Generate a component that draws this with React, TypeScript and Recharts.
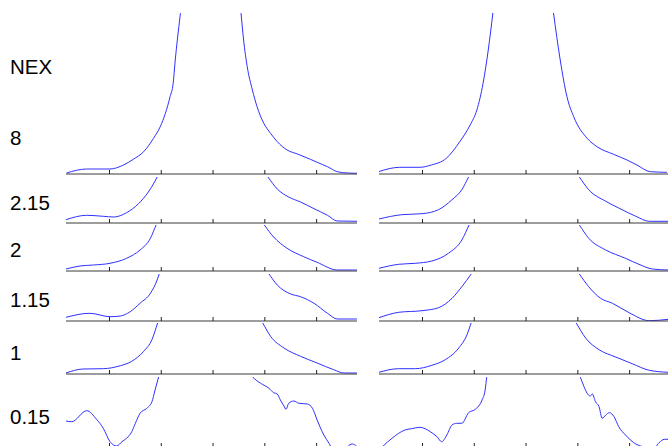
import React from "react";
import { LineChart, Line, XAxis, YAxis } from "recharts";

// ---- axis / labels ----
const xTicks = [-2, -1, 0, 1, 2];
const xDomain: [number, number] = [-2.84, 2.78];
const rowLabels = ["NEX", "8", "2.15", "2", "1.15", "1", "0.15"];

// ---- row 1 (8) ----
const r1LeftX = [-2.83, -2.44, -1.99, -1.73, -1.54, -1.34, -1.15, -1.02, -0.92, -0.83, -0.77, -0.73, -0.69, -0.63, -0.05, 0.54, 0.59, 0.66, 0.76, 0.85, 0.98, 1.11, 1.24, 1.43, 1.63, 1.88, 2.01, 2.21, 2.4, 2.59, 2.79];
const r1LeftY = [1, 5, 5, 9, 14.7, 22.3, 35.7, 47.3, 60.7, 77.3, 90.7, 114, 134, 160.7, 480, 160.7, 134, 107.3, 84, 67.3, 50.7, 40.7, 32.3, 24, 20, 14.7, 11.7, 7.3, 2.3, 1, 0.7];
const r1RightX = [-2.85, -2.44, -2.05, -1.83, -1.54, -1.28, -1.08, -0.95, -0.83, -0.73, -0.64, -0.05, 0.53, 0.66, 0.79, 0.92, 1.18, 1.37, 1.69, 1.95, 2.14, 2.4, 2.72];
const r1RightY = [2.3, 6.7, 6.7, 9, 15.7, 32.3, 49, 64, 90.7, 124, 161.3, 480, 161.3, 114, 77.3, 57.3, 35.7, 27.3, 19.7, 14, 9, 2.3, 1.7];

// ---- row 2 (2.15) ----
const r2LeftX = [-2.84, -2.44, -2.12, -1.92, -1.67, -1.44, -1.25, -1.13, -1.08, 0, 1.06, 1.24, 1.46, 1.69, 1.95, 2.21, 2.4, 2.78];
const r2LeftY = [3.3, 7.7, 6.7, 6, 10.3, 19.3, 31, 41, 46, 140, 46, 34, 26, 21, 14.3, 7.7, 2, 1.7];
const r2RightX = [-2.84, -2.4, -2.01, -1.69, -1.43, -1.24, -1.11, 0, 1.03, 1.21, 1.54, 1.79, 2.12, 2.38, 2.75];
const r2RightY = [4, 8.3, 9.3, 13.3, 23.3, 33.3, 46, 140, 46, 33.3, 21.7, 15, 6.7, 1.7, 1.7];

// ---- row 3 (2) ----
const r3LeftX = [-2.84, -2.57, -2.31, -1.99, -1.67, -1.41, -1.21, -1.1, 0, 0.99, 1.17, 1.43, 1.75, 2.01, 2.4, 2.78];
const r3LeftY = [2, 5, 6, 7.7, 12.7, 21, 32.7, 46, 140, 46, 34, 22.7, 14.3, 8.7, 1, 1];
const r3RightX = [-2.84, -2.46, -2.14, -1.82, -1.5, -1.24, -1.1, 0, 1.03, 1.21, 1.54, 1.92, 2.18, 2.44, 2.75];
const r3RightY = [2.7, 6.7, 7.7, 10, 17.7, 31, 46, 140, 46, 32.7, 21, 12.7, 6.7, 2, 1];

// ---- row 4 (1.15) ----
const r4LeftX = [-2.84, -2.38, -1.99, -1.79, -1.6, -1.41, -1.21, -1.08, -1.04, 0, 1.08, 1.24, 1.5, 1.69, 1.95, 2.21, 2.4, 2.78];
const r4LeftY = [3.7, 7.7, 4.3, 5, 9.3, 17.7, 27.7, 41, 47, 140, 47, 36, 27, 24.3, 17.7, 7.7, 2, 2];
const r4RightX = [-2.84, -2.46, -2.01, -1.69, -1.43, -1.24, -1.06, 0, 1.03, 1.21, 1.44, 1.67, 1.99, 2.38, 2.75];
const r4RightY = [3.3, 8.7, 10.3, 13.3, 22.7, 34.3, 47, 140, 47, 34.3, 22.7, 17.7, 8.3, 0.3, 1.7];

// ---- row 5 (1) ----
const r5LeftX = [-2.84, -2.51, -2.12, -1.79, -1.57, -1.34, -1.18, -1.07, 0, 0.96, 1.11, 1.37, 1.69, 2.01, 2.33, 2.53, 2.78];
const r5LeftY = [1, 5, 5.3, 8.3, 12.7, 22.7, 34.3, 51, 150, 51, 37.7, 26, 17.7, 11, 4.3, 1, 1];
const r5RightX = [-2.84, -2.46, -2.14, -1.82, -1.56, -1.3, -1.14, -1.06, 0, 0.97, 1.15, 1.41, 1.73, 2.05, 2.38, 2.75];
const r5RightY = [1.7, 5.3, 5.3, 8.7, 14.3, 26, 39.3, 51, 150, 51, 36, 24.3, 17, 10.3, 3.7, 1.7];

// ---- row 6 (0.15) ----
const r6LeftX = [-2.84, -2.73, -2.44, -2.25, -2.12, -1.99, -1.86, -1.76, -1.67, -1.57, -1.5, -1.41, -1.28, -1.18, -1.12, -1.05, -0.14, 0.77, 0.92, 1.08, 1.17, 1.24, 1.3, 1.37, 1.41, 1.46, 1.56, 1.66, 1.82, 1.92, 2.01, 2.14, 2.24, 2.3, 2.5, 2.59, 2.69, 2.77];
const r6LeftY = [26, 25.3, 36.3, 27.7, 18.7, 5.3, 1, 5.3, 8.7, 15.3, 23.7, 33.7, 38.7, 45.3, 57, 70.3, 210, 69.7, 63.7, 58.7, 54.3, 53, 47, 41, 37.7, 43.7, 46, 43.7, 43, 38.7, 27, 12, 3.7, -1.3, -3, 0.3, 3, 1];
const r6RightX = [-2.84, -2.76, -2.59, -2.46, -2.34, -2.21, -2.05, -1.95, -1.85, -1.72, -1.63, -1.53, -1.43, -1.34, -1.24, -1.11, -0.98, -0.85, -0.79, -0.76, 0.15, 1.05, 1.12, 1.18, 1.24, 1.28, 1.34, 1.41, 1.47, 1.54, 1.61, 1.7, 1.79, 1.92, 2.12, 2.25, 2.44, 2.57, 2.67, 2.75];
const r6RightY = [-3, 1, 8.7, 13.7, 17, 18.3, 19.7, 18.3, 15.3, 10.3, 5.3, 12, 22, 23.7, 23.7, 34.3, 37.7, 47, 57, 69.7, 210, 69.7, 60.3, 53.7, 51, 53, 45.3, 40.3, 28.7, 32, 34.3, 30.3, 20.3, 12, 3, 0.3, -3, 4.3, 7.7, 7.7];

// ---- layout ----
const colLefts = [66, 379];
const panelWidth = 291;
const rowTops = [13, 177, 225, 274, 323, 377];
const rowAxes = [174, 223, 271, 321, 374, 447];
const labelBaselines = [74, 145, 210, 257, 306.5, 360, 424];

const series = [
  [r1LeftX, r1LeftY, r1RightX, r1RightY],
  [r2LeftX, r2LeftY, r2RightX, r2RightY],
  [r3LeftX, r3LeftY, r3RightX, r3RightY],
  [r4LeftX, r4LeftY, r4RightX, r4RightY],
  [r5LeftX, r5LeftY, r5RightX, r5RightY],
  [r6LeftX, r6LeftY, r6RightX, r6RightY],
];

function Panel({ xs, ys, left, top, axisY }: { xs: number[]; ys: number[]; left: number; top: number; axisY: number }) {
  const h = axisY - top;
  const data = xs.map((x, i) => ({ x, y: ys[i] }));
  return (
    <div style={{ position: "absolute", left, top }}>
      <LineChart width={panelWidth} height={h + 2} data={data} margin={{ top: 0, right: 0, bottom: 2, left: 0 }}>
        <XAxis
          type="number"
          dataKey="x"
          domain={xDomain}
          ticks={xTicks}
          allowDataOverflow
          mirror
          tick={{ fill: "none", fontSize: 1 }}
          tickFormatter={() => ""}
          tickSize={4}
          axisLine={{ stroke: "#3a3a3a", strokeWidth: 1 }}
          tickLine={{ stroke: "#222", strokeWidth: 1 }}
        />
        <YAxis type="number" hide domain={[0, h]} allowDataOverflow />
        <Line
          dataKey="y"
          type="monotone"
          stroke="#3030ff"
          strokeWidth={1}
          dot={false}
          isAnimationActive={false}
        />
      </LineChart>
    </div>
  );
}

export default function App() {
  return (
    <div style={{ position: "absolute", left: 0, top: 0, width: 668, height: 446, overflow: "hidden", background: "#fff" }}>
      {series.map((s, r) => (
        <React.Fragment key={r}>
          <Panel xs={s[0]} ys={s[1]} left={colLefts[0]} top={rowTops[r]} axisY={rowAxes[r]} />
          <Panel xs={s[2]} ys={s[3]} left={colLefts[1]} top={rowTops[r]} axisY={rowAxes[r]} />
        </React.Fragment>
      ))}
      <svg width={668} height={446} style={{ position: "absolute", left: 0, top: 0, pointerEvents: "none" }}>
        {rowLabels.map((t, i) => (
          <text key={t} x={10} y={labelBaselines[i]} fontFamily="'Liberation Sans', Arial, sans-serif" fontSize={20.5} fill="#000">
            {t}
          </text>
        ))}
      </svg>
    </div>
  );
}
